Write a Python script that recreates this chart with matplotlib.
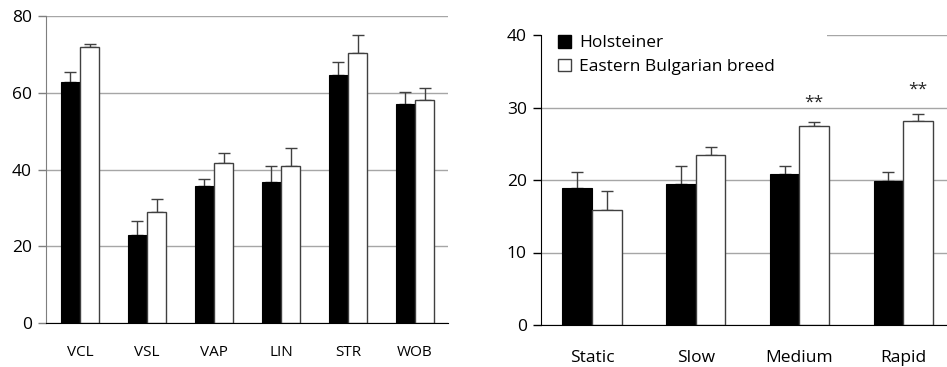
import numpy as np
import matplotlib.pyplot as plt
from matplotlib.patches import Patch

plt.rcParams['font.family'] = ['Open Sans', 'DejaVu Sans']

# Left panel: sperm motility parameters
params = ['VCL', 'VSL', 'VAP', 'LIN', 'STR', 'WOB']
hol_params = [62.8, 22.9, 35.8, 36.7, 64.5, 57.0]
hol_params_err = [2.7, 3.7, 1.8, 4.1, 3.6, 3.1]
ebb_params = [72.0, 28.8, 41.8, 41.0, 70.4, 58.0]
ebb_params_err = [0.7, 3.5, 2.4, 4.7, 4.7, 3.3]

# Right panel: motility classes
classes = ['Static', 'Slow', 'Medium', 'Rapid']
hol_classes = [18.9, 19.4, 20.8, 19.9]
hol_classes_err = [2.2, 2.6, 1.2, 1.2]
ebb_classes = [15.9, 23.5, 27.5, 28.1]
ebb_classes_err = [2.6, 1.0, 0.5, 1.0]
stars = ['', '', '**', '**']
star_y = [None, None, 30.7, 32.5]

series_names = ['Holsteiner', 'Eastern Bulgarian breed']

W, H = 947, 367
fig = plt.figure(figsize=(W / 100, H / 100), dpi=100)

grid_c = '#a6a6a6'
err_kw = dict(ecolor='#404040', elinewidth=1.0, capsize=4.5, capthick=1.0)


def draw_panel(ax, cats, v1, e1, v2, e2, width, spine_c):
    x = np.arange(len(cats))
    ax.bar(x - width / 2, v1, width, color='black', edgecolor='black',
           linewidth=0.8, zorder=2)
    ax.bar(x + width / 2, v2, width, color='white', edgecolor='#404040',
           linewidth=1.0, zorder=2)
    ax.errorbar(x - width / 2, v1, yerr=[np.zeros(len(e1)), e1], fmt='none',
                zorder=1.5, **err_kw)
    ax.errorbar(x + width / 2, v2, yerr=[np.zeros(len(e2)), e2], fmt='none',
                zorder=1.5, **err_kw)
    ax.set_xticks(x)
    ax.set_xticklabels(cats)
    ax.tick_params(axis='x', length=0)
    ax.tick_params(axis='y', length=6, width=1, color=spine_c, direction='out')
    ax.yaxis.grid(True, color=grid_c, linewidth=1.0, zorder=0)
    ax.set_axisbelow(True)
    ax.spines['top'].set_visible(False)
    ax.spines['right'].set_visible(False)
    ax.spines['left'].set_color(spine_c)
    ax.spines['bottom'].set_color('black')
    return x


# left chart
ax1 = fig.add_axes([46 / W, (H - 323) / H, 402 / W, 307 / H])
draw_panel(ax1, params, hol_params, hol_params_err, ebb_params, ebb_params_err,
           0.29, '#7f7f7f')
ax1.set_ylim(0, 80)
ax1.set_yticks([0, 20, 40, 60, 80])
ax1.set_xlim(-0.507, 5.493)
ax1.tick_params(axis='y', labelsize=12.5, pad=4)
ax1.tick_params(axis='x', labelsize=11, pad=16)

# right chart
ax2 = fig.add_axes([540.7 / W, (H - 325) / H, 406.3 / W, 290 / H])
x2 = draw_panel(ax2, classes, hol_classes, hol_classes_err, ebb_classes,
                ebb_classes_err, 0.285, 'black')
ax2.set_ylim(0, 40)
ax2.set_yticks([0, 10, 20, 30, 40])
ax2.set_xlim(-0.495, 3.423)
ax2.tick_params(axis='y', labelsize=12.5, pad=4)
ax2.tick_params(axis='x', labelsize=12.5, pad=18)

for xi, s, sy in zip(x2, stars, star_y):
    if s:
        ax2.text(xi + 0.1425, sy, s, ha='center', va='center', fontsize=12.5,
                 color='#262626')

handles = [Patch(facecolor='black', edgecolor='black'),
           Patch(facecolor='white', edgecolor='#404040')]
leg = ax2.legend(handles, series_names, loc='upper left',
                 bbox_to_anchor=(0.0, 1.06, 0.705, 0.0), mode='expand',
                 frameon=True, fancybox=False, fontsize=12.5,
                 handlelength=0.75, handleheight=0.75, handletextpad=0.45,
                 labelspacing=0.42, borderpad=1.0, borderaxespad=0.0)
leg.get_frame().set_facecolor('white')
leg.get_frame().set_edgecolor('none')
leg.get_frame().set_alpha(1.0)
leg.set_zorder(1)  # keep the left spine visible over the legend box

fig.savefig('out.png', dpi=100)
